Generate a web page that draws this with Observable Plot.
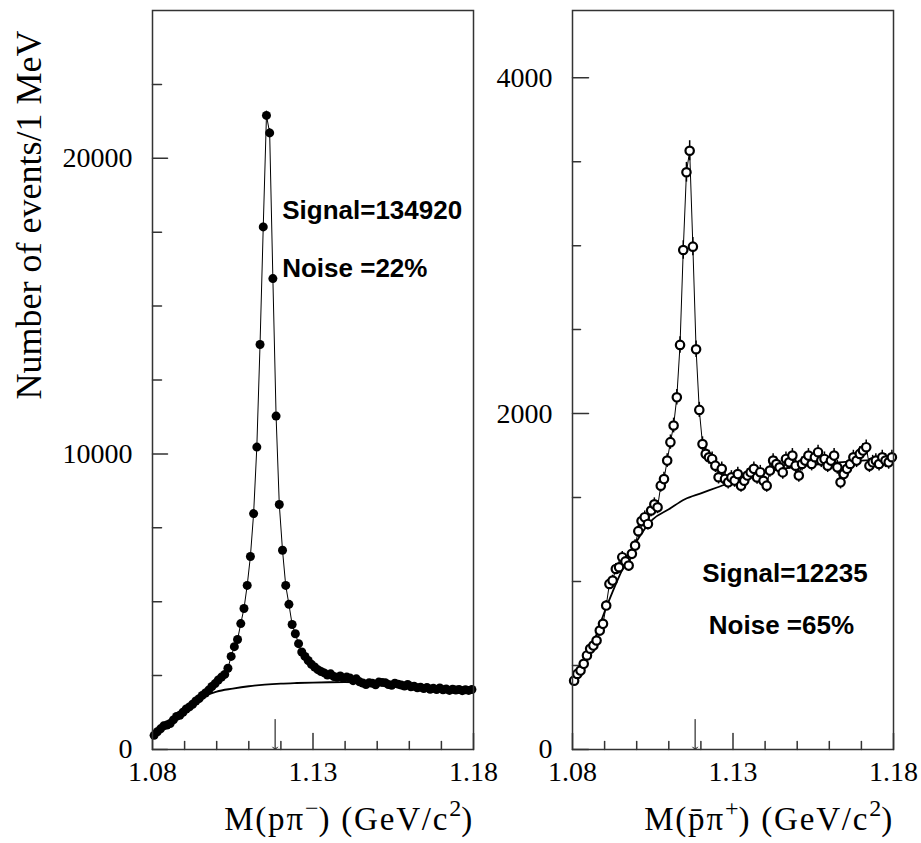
<!DOCTYPE html>
<html><head><meta charset="utf-8">
<script src="https://cdn.jsdelivr.net/npm/d3@7"></script>
<script src="https://cdn.jsdelivr.net/npm/@observablehq/plot@0.6"></script>
<style>
html,body{margin:0;padding:0;background:#fff;}
#wrap{position:relative;width:921px;height:843px;overflow:hidden;font-family:"Liberation Serif","Times New Roman",serif;}
#wrap svg{position:absolute;top:0;}
.xlab{position:absolute;top:803px;font-size:33px;line-height:33px;letter-spacing:1.8px;white-space:nowrap;color:#000;}
.xlab sup{font-size:24px;vertical-align:14px;line-height:0;letter-spacing:0;}
</style></head><body><div id="wrap"></div>
<script>
// bin centres (1 MeV bins), GeV/c^2
const massBins = [1.0805,1.0815,1.0825,1.0835,1.0845,1.0855,1.0865,1.0875,1.0885,1.0895,
1.0905,1.0915,1.0925,1.0935,1.0945,1.0955,1.0965,1.0975,1.0985,1.0995,
1.1005,1.1015,1.1025,1.1035,1.1045,1.1055,1.1065,1.1075,1.1085,1.1095,
1.1105,1.1115,1.1125,1.1135,1.1145,1.1155,1.1165,1.1175,1.1185,1.1195,
1.1205,1.1215,1.1225,1.1235,1.1245,1.1255,1.1265,1.1275,1.1285,1.1295,
1.1305,1.1315,1.1325,1.1335,1.1345,1.1355,1.1365,1.1375,1.1385,1.1395,
1.1405,1.1415,1.1425,1.1435,1.1445,1.1455,1.1465,1.1475,1.1485,1.1495,
1.1505,1.1515,1.1525,1.1535,1.1545,1.1555,1.1565,1.1575,1.1585,1.1595,
1.1605,1.1615,1.1625,1.1635,1.1645,1.1655,1.1665,1.1675,1.1685,1.1695,
1.1705,1.1715,1.1725,1.1735,1.1745,1.1755,1.1765,1.1775,1.1785,1.1795];

// M(p pi-) events per bin
const countsLambda = [480,600,700,800,830,880,1000,1120,1160,1260,
1370,1440,1530,1640,1720,1830,1910,2010,2130,2230,
2350,2450,2540,2750,3150,3480,3720,4260,4770,5550,
6530,7980,10230,13700,17680,21450,20860,15930,11280,8290,
6740,5550,4910,4230,3915,3580,3300,3150,3010,2880,
2790,2700,2640,2590,2520,2560,2470,2440,2490,2410,
2450,2420,2330,2390,2290,2250,2200,2260,2240,2190,
2280,2270,2260,2200,2170,2240,2210,2180,2150,2200,
2120,2140,2090,2110,2060,2100,2040,2070,2030,2080,
2020,2050,2000,2040,2010,2030,1990,2020,2000,2030];

// M(pbar pi+) events per bin
const countsAntiLambda = [410,450,470,510,560,600,619,649,708,748,
857,986,1006,1075,1085,1145,1120,1095,1165,1214,
1300,1360,1383,1343,1423,1460,1442,1571,1610,1720,
1830,1929,2097,2409,2974,3437,3565,2994,2383,2022,
1819,1760,1740,1730,1690,1621,1671,1611,1591,1620,
1601,1640,1571,1600,1631,1650,1671,1620,1651,1600,
1571,1661,1720,1700,1680,1650,1730,1710,1750,1690,
1631,1700,1720,1750,1700,1740,1770,1720,1730,1690,
1720,1750,1680,1591,1640,1671,1700,1740,1720,1760,
1780,1800,1690,1710,1720,1700,1740,1720,1710,1740];

// background fit curves
const bgMass = [1.0805,1.085,1.09,1.095,1.10,1.105,1.11,1.115,1.12,1.125,1.13,1.135,1.14,1.145,1.15,1.155,1.16,1.165,1.17,1.175,1.18];
const bgLambda = [470,860,1330,1740,1960,2060,2140,2195,2230,2250,2265,2275,2280,2270,2250,2220,2180,2140,2100,2070,2050];
const bgAntiLambda = [400,560,820,1050,1240,1370,1430,1490,1525,1560,1595,1625,1650,1670,1685,1695,1705,1712,1720,1725,1730];

// ticks
const xTicksMajor = [1.08, 1.13, 1.18];
const xTicksMinor = [1.09, 1.10, 1.11, 1.12, 1.14, 1.15, 1.16, 1.17];
const yTicksLeftMajor = [0, 10000, 20000];
const yTicksLeftMinor = [2500, 5000, 7500, 12500, 15000, 17500, 22500];
const yTicksRightMajor = [0, 2000, 4000];
const yTicksRightMinor = [500, 1000, 1500, 2500, 3000, 3500];

const lambdaMassMark = 1.1182;
const yLabel = "Number of events/1 MeV";
const leftTexts = ["Signal=134920", "Noise =22%"];
const rightTexts = ["Signal=12235", "Noise =65%"];

const leftData = massBins.map((m, i) => ({m, n: countsLambda[i]}));
const rightData = massBins.map((m, i) => ({m, n: countsAntiLambda[i]}));
const leftBg = bgMass.map((m, i) => ({m, n: bgLambda[i]}));
const rightBg = bgMass.map((m, i) => ({m, n: bgAntiLambda[i]}));

const serif = "'Liberation Serif','Times New Roman',serif";
const sans = "'Liberation Sans',Arial,Helvetica,sans-serif";
const tickShape = {draw(ctx, l) { ctx.moveTo(0, 0); ctx.lineTo(0, -l); }};
const axisColor = "#333";

function tickMarks(yMajor, yMinor, majorLen, minorLen) {
  return [
    Plot.vector(yMajor, {y: d => d, frameAnchor: "left", rotate: 90, length: majorLen, anchor: "start", shape: tickShape, stroke: axisColor, strokeWidth: 1.5}),
    Plot.vector(yMinor, {y: d => d, frameAnchor: "left", rotate: 90, length: minorLen, anchor: "start", shape: tickShape, stroke: axisColor, strokeWidth: 1.5}),
    Plot.vector(xTicksMajor, {x: d => d, frameAnchor: "bottom", rotate: 0, length: 16, anchor: "start", shape: tickShape, stroke: axisColor, strokeWidth: 1.5}),
    Plot.vector(xTicksMinor, {x: d => d, frameAnchor: "bottom", rotate: 0, length: 8, anchor: "start", shape: tickShape, stroke: axisColor, strokeWidth: 1.5}),
    Plot.vector([lambdaMassMark], {x: d => d, frameAnchor: "bottom", rotate: 180, length: 30, anchor: "end", r: 1.4, stroke: "#000", strokeWidth: 1})
  ];
}

function axes(yMajor) {
  return [
    Plot.axisX({ticks: xTicksMajor, tickSize: 0, tickPadding: 12, tickFormat: d => d.toFixed(2), fontSize: 28, fontFamily: serif, label: null}),
    Plot.axisY({ticks: yMajor, tickSize: 0, tickPadding: 20, tickFormat: d => String(d), fontSize: 28, fontFamily: serif, label: null})
  ];
}

const left = Plot.plot({
  width: 490, height: 843,
  marginLeft: 152, marginRight: 17, marginTop: 10, marginBottom: 94,
  x: {domain: [1.08, 1.18]},
  y: {domain: [0, 25000]},
  style: {fontFamily: serif, fontSize: "28px", color: "#000", background: "transparent", overflow: "visible"},
  marks: [
    ...axes(yTicksLeftMajor),
    ...tickMarks(yTicksLeftMajor, yTicksLeftMinor, 15, 9),
    Plot.line(leftBg, {x: "m", y: "n", curve: "monotone-x", stroke: "#000", strokeWidth: 1.8}),
    Plot.line(leftData, {x: "m", y: "n", stroke: "#000", strokeWidth: 1}),
    Plot.ruleX(leftData, {x: "m", y1: d => d.n - Math.sqrt(d.n), y2: d => d.n + Math.sqrt(d.n), stroke: "#000", strokeWidth: 1.2}),
    Plot.dot(leftData, {x: "m", y: "n", r: 4.5, fill: "#000", stroke: null}),
    Plot.text([leftTexts[0]], {x: 1.1204, y: 18245, text: d => d, textAnchor: "start", fontFamily: sans, fontWeight: "bold", fontSize: 26, fill: "#000"}),
    Plot.text([leftTexts[1]], {x: 1.1204, y: 16260, text: d => d, textAnchor: "start", fontFamily: sans, fontWeight: "bold", fontSize: 26, fill: "#000"}),
    Plot.text([yLabel], {text: d => d, frameAnchor: "left", textAnchor: "middle", lineAnchor: "middle", rotate: -90, dx: -123.5, dy: -165, fontFamily: serif, fontSize: 36, fill: "#000", ariaLabel: "ylabel"}),
    Plot.frame({stroke: axisColor, strokeWidth: 1.5})
  ]
});

const right = Plot.plot({
  width: 431, height: 843,
  marginLeft: 82, marginRight: 28, marginTop: 10, marginBottom: 94,
  x: {domain: [1.08, 1.18]},
  y: {domain: [0, 4400]},
  style: {fontFamily: serif, fontSize: "28px", color: "#000", background: "transparent", overflow: "visible"},
  marks: [
    ...axes(yTicksRightMajor),
    ...tickMarks(yTicksRightMajor, yTicksRightMinor, 16, 8),
    Plot.line(rightBg, {x: "m", y: "n", curve: "monotone-x", stroke: "#000", strokeWidth: 1.8}),
    Plot.line(rightData, {x: "m", y: "n", stroke: "#000", strokeWidth: 1}),
    Plot.ruleX(rightData, {x: "m", y1: d => d.n - Math.sqrt(d.n), y2: d => d.n + Math.sqrt(d.n), stroke: "#000", strokeWidth: 1.5}),
    Plot.dot(rightData, {x: "m", y: "n", r: 4.2, fill: "#fff", stroke: "#000", strokeWidth: 2.2}),
    Plot.text([rightTexts[0]], {x: 1.1204, y: 1046, text: d => d, textAnchor: "start", fontFamily: sans, fontWeight: "bold", fontSize: 26, fill: "#000"}),
    Plot.text([rightTexts[1]], {x: 1.12246, y: 738, text: d => d, textAnchor: "start", fontFamily: sans, fontWeight: "bold", fontSize: 26, fill: "#000"}),
    Plot.frame({stroke: axisColor, strokeWidth: 1.5})
  ]
});

const wrap = document.getElementById("wrap");
left.style.left = "0px";
right.style.left = "490px";
wrap.appendChild(left);
wrap.appendChild(right);
d3.select(left).selectAll('g[aria-label="ylabel"] text').style("letter-spacing", "-0.6px");

const xl1 = document.createElement("div");
xl1.className = "xlab";
xl1.style.right = (921 - 474) + "px";
xl1.innerHTML = "M(p&pi;<sup>&minus;</sup>) (GeV/c<sup>2</sup>)";
wrap.appendChild(xl1);

const xl2 = document.createElement("div");
xl2.className = "xlab";
xl2.style.right = (921 - 894) + "px";
xl2.innerHTML = "M(p&#x0304;&pi;<sup>+</sup>) (GeV/c<sup>2</sup>)";
wrap.appendChild(xl2);
</script></body></html>
